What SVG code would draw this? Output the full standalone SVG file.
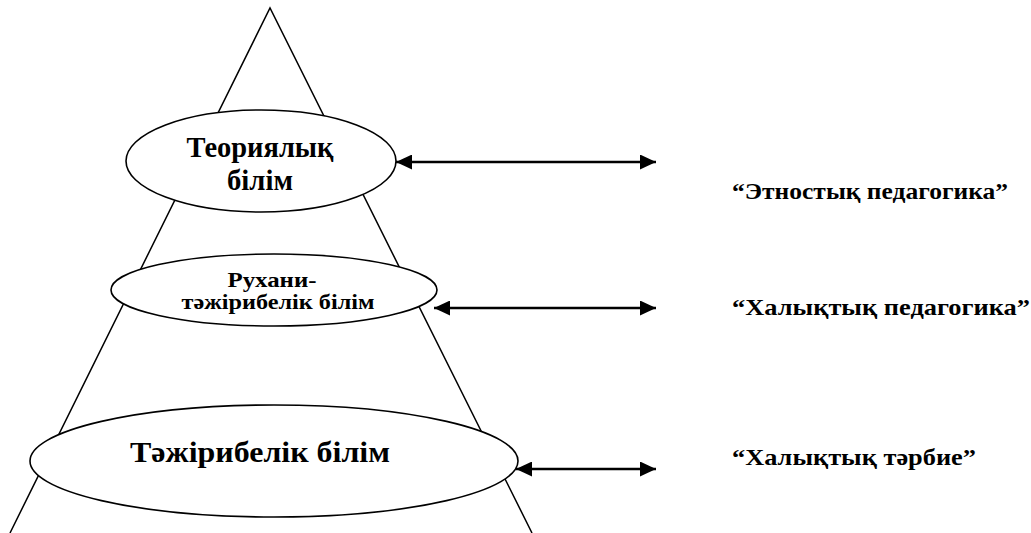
<svg xmlns="http://www.w3.org/2000/svg" width="1031" height="533" viewBox="0 0 1031 533">
<style>
.shape{fill:#fff;stroke:#000;stroke-width:1.6}
.edge{stroke:#000;stroke-width:2.4;fill:none}
.t{font-family:"Liberation Serif","Times New Roman","DejaVu Serif",serif;font-weight:bold;fill:#000}
</style>
<defs>
<marker id="ah" viewBox="0 0 16 15" refX="16" refY="7.5" markerWidth="16" markerHeight="15" markerUnits="userSpaceOnUse" orient="auto-start-reverse">
<path d="M0,0 L16,7.5 L0,15 Z" fill="#000"/>
</marker>
</defs>
<rect width="1031" height="533" fill="#fff"/>
<g id="pyramid">
<path d="M10,533 L270,8 L532,533" fill="none" stroke="#000" stroke-width="1.5"/>
</g>
<g id="node-theory">
<ellipse class="shape" cx="261" cy="161" rx="135" ry="51"/>
<text class="t" x="260" y="157" font-size="30" text-anchor="middle" textLength="147" lengthAdjust="spacingAndGlyphs">Теориялық</text>
<text class="t" x="260" y="190" font-size="30" text-anchor="middle" textLength="66" lengthAdjust="spacingAndGlyphs">білім</text>
</g>
<g id="node-spiritual">
<ellipse class="shape" cx="274" cy="290" rx="163" ry="36"/>
<text class="t" x="272" y="287" font-size="21" text-anchor="middle" textLength="89" lengthAdjust="spacingAndGlyphs">Рухани-</text>
<text class="t" x="278" y="309" font-size="21" text-anchor="middle" textLength="193" lengthAdjust="spacingAndGlyphs">тәжірибелік білім</text>
</g>
<g id="node-practical">
<ellipse class="shape" cx="274" cy="461" rx="244" ry="56"/>
<text class="t" x="260" y="462" font-size="29" text-anchor="middle" textLength="260" lengthAdjust="spacingAndGlyphs">Тәжірибелік білім</text>
</g>
<g id="connectors">
<line class="edge" x1="396" y1="162" x2="656" y2="162" marker-start="url(#ah)" marker-end="url(#ah)"/>
<line class="edge" x1="434" y1="308" x2="656" y2="308" marker-start="url(#ah)" marker-end="url(#ah)"/>
<line class="edge" x1="516" y1="469" x2="656" y2="469" marker-start="url(#ah)" marker-end="url(#ah)"/>
</g>
<g id="label-ethno">
<text class="t" x="732" y="199" font-size="24" textLength="276" lengthAdjust="spacingAndGlyphs">“Этностық педагогика”</text>
</g>
<g id="label-folk-ped">
<text class="t" x="732" y="315" font-size="24" textLength="298" lengthAdjust="spacingAndGlyphs">“Халықтық педагогика”</text>
</g>
<g id="label-folk-edu">
<text class="t" x="732" y="465" font-size="24" textLength="244" lengthAdjust="spacingAndGlyphs">“Халықтық тәрбие”</text>
</g>
</svg>
